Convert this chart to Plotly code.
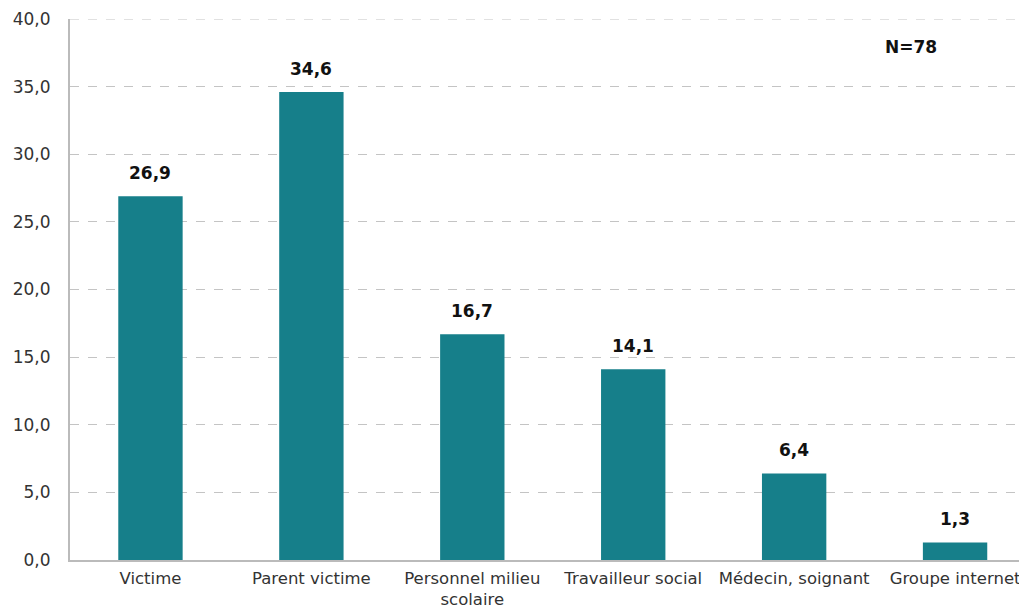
import plotly.graph_objects as go

categories = ["Victime", "Parent victime", "Personnel milieu<br>scolaire",
              "Travailleur social", "Médecin, soignant", "Groupe internet"]
values = [26.9, 34.6, 16.7, 14.1, 6.4, 1.3]
labels = ["26,9", "34,6", "16,7", "14,1", "6,4", "1,3"]
y_ticks = [0, 5, 10, 15, 20, 25, 30, 35, 40]

font = "Verdana, DejaVu Sans, sans-serif"
# page body has an 8px margin, so the figure is sized/positioned to compensate
OFF = 8
W, H = 1027 - OFF, 611 - OFF
L, R, T, B = 70 - OFF, 0, 19 - OFF, 51
PW, PH = W - L - R, H - T - B

xs = list(range(len(categories)))
fig = go.Figure(go.Bar(
    x=xs, y=values,
    marker=dict(color="#167F8A", line=dict(width=0)),
    width=0.4,
    hoverinfo="skip",
))

annotations = [dict(
    x=x, y=v, xref="x", yref="y", text=f"<b>{t}</b>", showarrow=False,
    yanchor="bottom", yshift=11,
    font=dict(family=font, size=17, color="#111111"),
) for x, v, t in zip(xs, values, labels)]

annotations.append(dict(
    x=(911 - OFF - L) / PW, y=(H - B - (47 - OFF)) / PH,
    xref="paper", yref="paper", text="<b>N=78</b>",
    showarrow=False, xanchor="center", yanchor="middle",
    font=dict(family=font, size=17, color="#111111"),
))

fig.update_layout(
    width=W, height=H,
    margin=dict(l=L, r=R, t=T, b=B, autoexpand=False),
    paper_bgcolor="white", plot_bgcolor="white",
    separators=",.",
    showlegend=False,
    font=dict(family=font, size=17, color="#333333"),
    xaxis=dict(
        tickmode="array", tickvals=xs, ticktext=categories,
        range=[-0.5, 5.447], showgrid=False, zeroline=False,
        showline=True, linecolor="#bbbbbb", linewidth=2, ticks="",
        automargin=False, ticklabelstandoff=2,
        tickfont=dict(family=font, size=16.5, color="#333333"),
    ),
    yaxis=dict(
        range=[0, 40], tickvals=y_ticks, tickformat=".1f",
        showgrid=True, gridcolor="#c4c4c4", griddash="dash", gridwidth=1,
        zeroline=False, showline=True, linecolor="#bbbbbb", linewidth=2,
        ticks="", automargin=False, ticklabelstandoff=14,
        tickfont=dict(family=font, size=17, color="#333333"),
    ),
    annotations=annotations,
    shapes=[dict(type="line", xref="paper", yref="y", x0=0, x1=1, y0=40, y1=40,
                 line=dict(color="#c4c4c4", width=1, dash="dash"))],
)

fig.write_html("out.html")
